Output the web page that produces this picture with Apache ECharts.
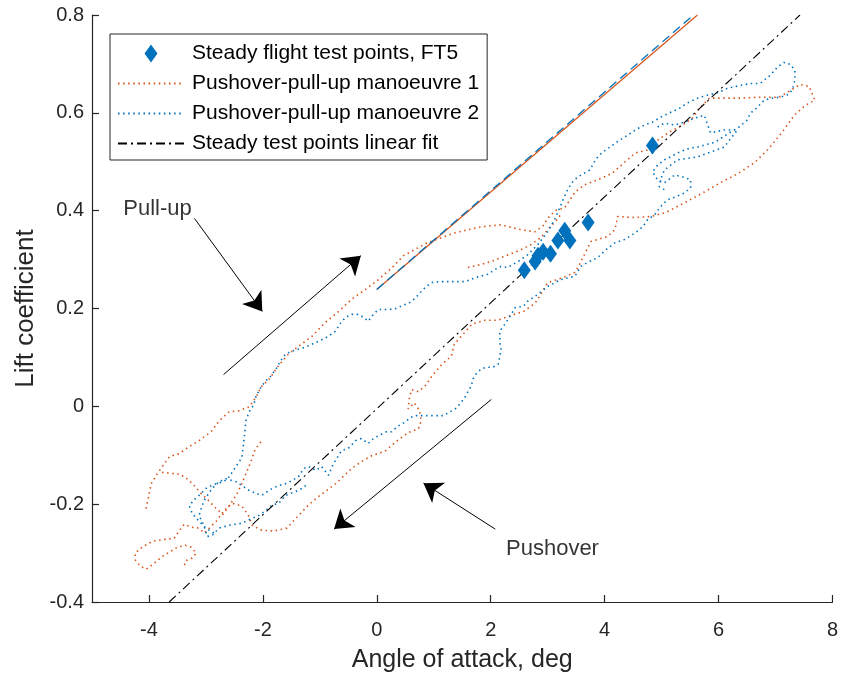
<!DOCTYPE html>
<html><head><meta charset="utf-8">
<script src="https://cdn.jsdelivr.net/npm/echarts@6/dist/echarts.min.js"></script>
<style>html,body{margin:0;padding:0;background:#fff;}#c{width:841px;height:678px;}</style>
</head><body><div id="c"></div>
<script>
// ---- data ----
const xTicks = [-4, -2, 0, 2, 4, 6, 8];
const yTicks = [-0.4, -0.2, 0, 0.2, 0.4, 0.6, 0.8];

const steadyAlpha = [2.59, 2.78, 2.83, 2.92, 3.05, 3.18, 3.30, 3.39, 3.71, 4.84];
const steadyCL    = [0.278, 0.296, 0.308, 0.316, 0.312, 0.339, 0.359, 0.339, 0.376, 0.533];

// manoeuvre 1 (alpha, CL); null separates traced segments
const pm1Points = [
[-4.05,-0.209],[-3.96,-0.158],[-3.85,-0.137],[-3.64,-0.103],[-3.47,-0.097],[-3.29,-0.082],[-3.12,-0.070],[-2.91,-0.052],[-2.77,-0.030],[-2.59,-0.011],[-2.42,-0.009],[-2.24,-0.001],[-2.12,0.019],[-2.03,0.040],[-1.90,0.054],[-1.72,0.084],[-1.55,0.107],[-1.37,0.123],[-1.14,0.143],[-0.90,0.172],[-0.67,0.194],[-0.44,0.219],[-0.20,0.239],[0.03,0.259],[0.29,0.286],[0.47,0.308],[0.69,0.322],[0.90,0.335],[1.38,0.355],[1.83,0.367],[2.18,0.371],[2.53,0.361],[2.78,0.357],[2.92,0.369],[3.00,0.384],[3.13,0.400],[3.30,0.406],[3.39,0.422],[3.48,0.438],[3.65,0.453],[3.88,0.463],[4.14,0.477],[4.35,0.499],[4.54,0.518],[4.75,0.524],[4.93,0.544],[5.14,0.561],[5.37,0.575],[5.54,0.589],[5.68,0.611],[5.84,0.630],[6.03,0.630],[6.36,0.630],[6.71,0.632],[7.06,0.632],[7.24,0.644],[7.43,0.658],[7.59,0.654],[7.69,0.626],[7.52,0.615],[7.33,0.595],[7.12,0.561],[6.89,0.528],[6.64,0.499],[6.36,0.477],[6.03,0.457],[5.75,0.438],[5.40,0.416],[5.07,0.396],[4.81,0.388],[4.53,0.386],[4.23,0.388],[4.18,0.361],[4.05,0.347],[3.88,0.341],[3.76,0.337],[3.67,0.316],[3.56,0.290],[3.48,0.274],[3.27,0.263],[3.00,0.253],[2.88,0.229],[2.78,0.211],[2.58,0.194],[2.36,0.186],[2.13,0.176],[1.90,0.176],[1.67,0.168],[1.52,0.148],[1.36,0.127],[1.31,0.103],[1.13,0.084],[0.97,0.062],[0.85,0.042],[0.73,0.030],[0.61,0.034],[0.57,0.015],[0.55,-0.005],[0.66,0.007],[0.75,-0.009],[0.78,-0.030],[0.73,-0.046],[0.55,-0.054],[0.34,-0.072],[0.15,-0.091],[-0.09,-0.101],[-0.27,-0.113],[-0.44,-0.127],[-0.72,-0.158],[-1.02,-0.184],[-1.20,-0.202],[-1.34,-0.219],[-1.58,-0.249],[-1.81,-0.255],[-2.03,-0.253],[-2.19,-0.243],[-2.26,-0.221],[-2.37,-0.204],[-2.54,-0.198],[-2.68,-0.213],[-2.82,-0.235],[-2.94,-0.249],[-3.03,-0.259],[-3.12,-0.249],[-3.26,-0.247],[-3.38,-0.241],[-3.47,-0.255],[-3.56,-0.270],[-3.73,-0.272],[-3.94,-0.276],[-4.12,-0.288],[-4.24,-0.300],[-4.24,-0.314],[-4.15,-0.327],[-4.05,-0.333],[-3.92,-0.322],[-3.78,-0.308],[-3.64,-0.298],[-3.50,-0.288],[-3.36,-0.284],[-3.26,-0.288],[-3.17,-0.300],[-3.24,-0.310],[-3.36,-0.316],[-3.38,-0.327],
null,
[-3.77,-0.135],[-3.61,-0.137],[-3.45,-0.139],[-3.31,-0.150],[-3.19,-0.164],[-3.07,-0.180],[-2.94,-0.194],[-2.82,-0.209],[-2.70,-0.221],[-2.56,-0.198],[-2.45,-0.178],[-2.37,-0.158],[-2.28,-0.133],[-2.21,-0.113],[-2.14,-0.089],[-2.03,-0.072],
null,
[1.60,0.284],[1.83,0.290],[2.01,0.296],[2.18,0.304],[2.36,0.312],[2.53,0.320],[2.71,0.331],[2.88,0.345],[3.00,0.361],[3.13,0.377],[3.23,0.392]
];

// manoeuvre 2 (alpha, CL)
const pm2Points = [
[-2.86,-0.259],[-3.00,-0.249],[-3.12,-0.235],[-3.24,-0.219],[-3.29,-0.204],[-3.22,-0.192],[-3.12,-0.182],[-3.00,-0.168],[-2.87,-0.160],[-2.75,-0.156],[-2.63,-0.150],[-2.54,-0.135],[-2.45,-0.119],[-2.37,-0.105],[-2.35,-0.086],[-2.33,-0.068],[-2.31,-0.046],[-2.30,-0.030],[-2.24,-0.011],[-2.16,0.003],[-2.12,0.021],[-2.03,0.040],[-1.95,0.052],[-1.86,0.062],[-1.77,0.076],[-1.69,0.093],[-1.60,0.107],[-1.49,0.113],[-1.37,0.117],[-1.25,0.121],[-1.14,0.127],[-1.02,0.133],[-0.85,0.143],[-0.72,0.154],[-0.65,0.168],[-0.55,0.182],[-0.44,0.188],[-0.32,0.188],[-0.23,0.182],[-0.15,0.174],[-0.06,0.188],[0.03,0.198],[0.20,0.198],[0.34,0.200],[0.47,0.207],[0.59,0.213],[0.69,0.223],[0.78,0.235],[0.87,0.245],[0.96,0.253],[1.13,0.255],[1.38,0.255],[1.55,0.255],[1.73,0.263],[1.95,0.270],[2.08,0.280],[2.18,0.286],[2.30,0.284],[2.48,0.296],[2.65,0.310],[2.83,0.331],[3.00,0.357],[3.14,0.386],[3.27,0.422],[3.35,0.443],[3.44,0.459],[3.53,0.469],[3.65,0.477],[3.74,0.483],[3.84,0.504],[3.91,0.514],[4.02,0.524],[4.14,0.534],[4.26,0.544],[4.40,0.554],[4.54,0.565],[4.70,0.575],[4.84,0.581],[4.98,0.591],[5.16,0.601],[5.31,0.609],[5.45,0.620],[5.63,0.630],[5.80,0.636],[6.01,0.642],[6.15,0.650],[6.38,0.656],[6.56,0.660],[6.73,0.660],[6.91,0.677],[7.03,0.693],[7.15,0.703],[7.26,0.699],[7.34,0.687],[7.34,0.672],[7.33,0.660],[7.29,0.646],[7.20,0.636],[7.08,0.632],[6.94,0.630],[6.80,0.626],[6.68,0.611],[6.56,0.599],[6.50,0.585],[6.36,0.571],[6.19,0.559],[6.07,0.550],[5.94,0.540],[5.75,0.534],[5.63,0.530],[5.51,0.528],[5.40,0.524],[5.28,0.518],[5.16,0.510],[5.05,0.504],[4.93,0.493],[4.84,0.479],[4.93,0.463],[5.05,0.457],[5.23,0.473],[5.37,0.469],[5.51,0.463],[5.51,0.447],[5.40,0.436],[5.24,0.428],[5.10,0.422],[4.98,0.408],[4.88,0.392],[4.75,0.381],[4.67,0.367],[4.54,0.355],[4.35,0.341],[4.19,0.335],[4.02,0.320],[3.88,0.304],[3.70,0.294],[3.58,0.286],[3.48,0.266],[3.23,0.259],[3.00,0.245],[2.83,0.229],[2.65,0.215],[2.57,0.204],[2.43,0.202],[2.36,0.188],[2.25,0.168],[2.16,0.154],[2.16,0.131],[2.18,0.117],[2.16,0.101],[2.13,0.086],[2.04,0.080],[1.92,0.080],[1.83,0.076],[1.74,0.066],[1.69,0.056],[1.66,0.042],[1.60,0.030],[1.55,0.019],[1.46,0.005],[1.38,-0.005],[1.29,-0.011],[1.17,-0.019],[1.04,-0.019],[0.94,-0.019],[0.82,-0.019],[0.69,-0.019],[0.59,-0.023],[0.50,-0.032],[0.38,-0.040],[0.26,-0.052],[0.17,-0.052],[0.06,-0.058],[-0.06,-0.066],[-0.15,-0.076],[-0.27,-0.066],[-0.37,-0.070],[-0.50,-0.086],[-0.62,-0.091],[-0.76,-0.117],[-0.85,-0.141],[-0.97,-0.123],[-1.07,-0.131],[-1.20,-0.123],[-1.28,-0.127],[-1.37,-0.143],[-1.49,-0.152],[-1.60,-0.158],[-1.72,-0.162],[-1.84,-0.168],[-2.02,-0.182],[-2.12,-0.178],[-2.24,-0.172],[-2.37,-0.162],[-2.47,-0.154],[-2.65,-0.148],[-2.77,-0.154],[-2.89,-0.168],[-3.01,-0.188],[-3.07,-0.204],[-3.12,-0.223],[-3.03,-0.245],[-2.98,-0.266],[-2.89,-0.264],[-2.77,-0.249],[-2.59,-0.243],[-2.37,-0.239],[-2.19,-0.229],[-2.07,-0.223],[-1.95,-0.213],[-1.84,-0.202],[-1.72,-0.198],[-1.60,-0.182],[-1.42,-0.174],[-1.32,-0.168],[-1.20,-0.158],
null,
[4.93,0.571],[5.05,0.579],[5.23,0.575],[5.40,0.581],[5.58,0.589],[5.75,0.595],[5.86,0.559],[6.10,0.565],[6.33,0.565],[6.10,0.530],[5.63,0.510],[5.28,0.504],[5.05,0.483],[4.98,0.463],[4.96,0.449],[5.05,0.443]
];

const fitAlpha = [-3.645, 7.43];
const fitCL    = [-0.4, 0.8];
const ref1Alpha = [0, 5.63];
const ref1CL    = [0.239, 0.80];
const ref2Alpha = [0, 5.56];
const ref2CL    = [0.239, 0.80];

const arrowStart = [[-3.20, 0.384], [-2.69, 0.065], [2.01, 0.014], [2.08, -0.251]];
const arrowEnd   = [[-2.01, 0.194], [-0.28, 0.308], [-0.75, -0.251], [0.82, -0.157]];
const noteText = ['Pull-up', 'Pushover'];
const notePos  = [[-4.46, 0.404], [2.26, -0.292]];

const names = ['Steady flight test points, FT5', 'Pushover-pull-up manoeuvre 1',
               'Pushover-pull-up manoeuvre 2', 'Steady test points linear fit'];

// ---- chart ----
const BLUE = '#0072BD', ORANGE = '#D95319', AX = '#262626';
const FONT = 'Liberation Sans, Arial, Helvetica, sans-serif';
const toLine = pts => pts.map(p => p === null ? ['-', '-'] : p);
const zip = (a, b) => a.map((v, i) => [v, b[i]]);
const DOT = {width: 1.6, type: [1.5, 3.6], cap: 'butt'};

const chart = echarts.init(document.getElementById('c'), null, {renderer: 'canvas'});
chart.setOption({
  animation: false,
  backgroundColor: '#fff',
  grid: {left: 92, right: 6, top: 15, bottom: 74, containLabel: false},
  xAxis: {
    type: 'value', min: -5, max: 8,
    name: 'Angle of attack, deg', nameLocation: 'middle', nameGap: 46,
    nameTextStyle: {color: AX, fontSize: 25, fontFamily: FONT},
    axisLine: {show: true, onZero: false, lineStyle: {color: AX, width: 1.2}},
    axisTick: {show: true, inside: true, length: 7, customValues: xTicks, lineStyle: {color: AX, width: 1.2}},
    axisLabel: {show: true, customValues: xTicks, margin: 18, color: AX, fontSize: 20, fontFamily: FONT},
    splitLine: {show: false}
  },
  yAxis: {
    type: 'value', min: -0.4, max: 0.8,
    name: 'Lift coefficient', nameLocation: 'middle', nameGap: 38, nameRotate: 90,
    nameTextStyle: {color: AX, fontSize: 26, fontFamily: FONT},
    axisLine: {show: true, onZero: false, lineStyle: {color: AX, width: 1.2}},
    axisTick: {show: true, inside: true, length: 7, customValues: yTicks, lineStyle: {color: AX, width: 1.2}},
    axisLabel: {show: true, customValues: yTicks, margin: 8, color: AX, fontSize: 20, fontFamily: FONT,
      formatter: v => (Math.abs(v) < 1e-9 ? '0' : v.toFixed(1))},
    splitLine: {show: false}
  },
  legend: {
    data: [
      {name: names[0], icon: 'path://M6.5,0L13,9L6.5,18L0,9Z', itemStyle: {color: BLUE}},
      {name: names[1], itemStyle: {opacity: 0}},
      {name: names[2], itemStyle: {opacity: 0}},
      {name: names[3], itemStyle: {opacity: 0}}
    ],
    orient: 'vertical', left: 110, top: 34,
    itemWidth: 66, itemHeight: 18, itemGap: 9, symbolKeepAspect: true,
    padding: [9, 8, 6, 7],
    backgroundColor: '#fff', borderColor: '#262626', borderWidth: 1,
    selectedMode: false,
    textStyle: {color: '#000', fontSize: 21, fontFamily: FONT, lineHeight: 20, padding: [0, 0, 0, 3]}
  },
  series: [
    {
      name: names[1], type: 'line', data: toLine(pm1Points), showSymbol: false, symbol: 'none',
      connectNulls: false, lineStyle: Object.assign({color: ORANGE}, DOT),
      itemStyle: {color: ORANGE}, z: 2
    },
    {
      name: names[2], type: 'line', data: toLine(pm2Points), showSymbol: false, symbol: 'none',
      connectNulls: false, lineStyle: Object.assign({color: BLUE}, DOT),
      itemStyle: {color: BLUE}, z: 3
    },
    {
      name: 'ref1', type: 'line', data: zip(ref1Alpha, ref1CL), showSymbol: false, symbol: 'none',
      lineStyle: {color: ORANGE, width: 1.2}, z: 4
    },
    {
      name: 'ref2', type: 'line', data: zip(ref2Alpha, ref2CL), showSymbol: false, symbol: 'none',
      lineStyle: {color: BLUE, width: 1.3, type: [9, 5]}, z: 4
    },
    {
      name: names[3], type: 'line', data: zip(fitAlpha, fitCL), showSymbol: false, symbol: 'none',
      lineStyle: {color: '#000', width: 1.1, type: [9, 4, 2, 4]}, itemStyle: {color: '#000'}, z: 5
    },
    {
      name: names[0], type: 'scatter', data: zip(steadyAlpha, steadyCL),
      symbol: 'diamond', symbolSize: [13, 18], itemStyle: {color: BLUE, opacity: 1}, z: 6
    },
    {
      name: 'arrows', type: 'lines', coordinateSystem: 'cartesian2d', silent: true,
      data: arrowStart.map((s, i) => ({coords: [s, arrowEnd[i]]})),
      symbol: ['none', 'arrow'], symbolSize: 18,
      lineStyle: {color: '#000', width: 1, opacity: 1}, z: 7
    },
    {
      name: 'notes', type: 'scatter', silent: true, symbol: 'circle', symbolSize: 1,
      itemStyle: {color: 'rgba(0,0,0,0)'},
      data: notePos.map((p, i) => ({value: p, name: noteText[i]})),
      label: {show: true, position: 'right', distance: 0, formatter: '{b}', color: '#000',
              fontSize: 22, fontFamily: FONT},
      z: 8
    }
  ]
});
</script>
</body></html>
